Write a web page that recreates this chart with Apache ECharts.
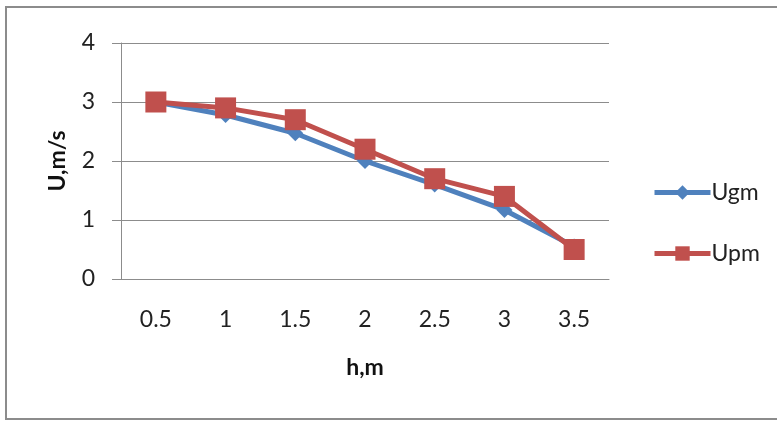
<!DOCTYPE html>
<html><head><meta charset="utf-8">
<script src="https://cdn.jsdelivr.net/npm/echarts@6/dist/echarts.min.js"></script>
<style>
html,body{margin:0;padding:0;background:#fff;}
#frame{position:absolute;left:5px;top:6px;width:790px;height:414px;border:2px solid #8c8c8c;box-sizing:border-box;}
#c{position:absolute;left:0;top:0;width:777px;height:423px;}
</style></head>
<body>
<div id="frame"></div>
<div id="c"></div>
<script>
const categories = ['0.5','1','1.5','2','2.5','3','3.5'];
const ugm = [3.0, 2.78, 2.47, 2.0, 1.6, 1.17, 0.55];
const upm = [3.0, 2.9, 2.7, 2.2, 1.7, 1.4, 0.5];
const yTicks = [0,1,2,3,4];

const chart = echarts.init(document.getElementById('c'), null, {renderer:'canvas'});
const font = 'Lato, "Open Sans", sans-serif';
chart.setOption({
  backgroundColor: 'transparent',
  animation: false,
  grid: {left:121, right:168, top:43, bottom:144},
  legend: {
    orient:'vertical', left:647, top:176, itemGap:38, itemWidth:56, itemHeight:18,
    textStyle:{fontFamily:font, fontSize:23, color:'#222', padding:[0,0,0,-4]},
    lineStyle:{width:5},
    data:['Ugm','Upm']
  },
  xAxis: {
    type:'category', data:categories, boundaryGap:true,
    name:'h,m', nameLocation:'middle', nameGap:77,
    nameTextStyle:{fontFamily:font, fontSize:23, fontWeight:'bold', color:'#111'},
    axisLine:{lineStyle:{color:'#8c8c8c', width:1}},
    axisTick:{show:false},
    axisLabel:{fontFamily:font, fontSize:23, color:'#222', margin:29}
  },
  yAxis: {
    type:'value', min:yTicks[0], max:yTicks[yTicks.length-1], interval:1,
    name:'U,m/s', nameLocation:'middle', nameGap:52,
    nameTextStyle:{fontFamily:font, fontSize:23, fontWeight:'bold', color:'#111'},
    axisLine:{show:true, lineStyle:{color:'#8c8c8c', width:1}},
    axisTick:{show:true, length:9, lineStyle:{color:'#8c8c8c'}},
    splitLine:{lineStyle:{color:'#8c8c8c', width:1}},
    axisLabel:{fontFamily:font, fontSize:23, color:'#222', margin:26}
  },
  series: [
    {name:'Ugm', type:'line', data:ugm, symbol:'diamond', symbolSize:16,
     lineStyle:{color:'#4F81BD', width:5}, itemStyle:{color:'#4F81BD'}},
    {name:'Upm', type:'line', data:upm, symbol:'rect', symbolSize:21,
     lineStyle:{color:'#C0504D', width:5}, itemStyle:{color:'#C0504D'}}
  ]
});
</script>
</body></html>
